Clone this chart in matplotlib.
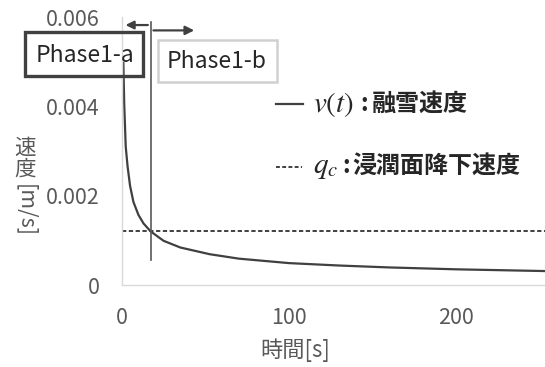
import numpy as np
import matplotlib.pyplot as plt
from matplotlib.patches import Rectangle
from matplotlib.lines import Line2D

plt.rcParams['font.family'] = ['Noto Sans CJK JP', 'DejaVu Sans']
plt.rcParams['mathtext.fontset'] = 'stix'

# melt rate v(t)
t = [1, 1.5, 2.4, 3.5, 5, 7, 10, 13, 17.3, 25, 35, 52.5, 70, 100, 130, 160, 200, 253]
v = [0.00497, 0.00406, 0.0031, 0.00266, 0.00222, 0.00186, 0.00157, 0.00138, 0.0012,
     0.00099, 0.00084, 0.00069, 0.00059, 0.00049, 0.000436, 0.000393, 0.000351, 0.000312]
qc = 0.0012          # wetting front descent rate
t_cross = 17.3       # phase boundary
xticks = [0, 100, 200]
yticks = [0, 0.002, 0.004, 0.006]
ytick_labels = ['0', '0.002', '0.004', '0.006']

W, H = 545, 367
fig = plt.figure(figsize=(W / 100, H / 100), dpi=100)
ax = fig.add_axes([121.7 / W, 82 / H, 1 - 121.7 / W, (285 - 17) / H])

dark = '#404040'
grey = '#595959'
ink = '#262626'

ax.plot(t, v, color=dark, lw=1.6, clip_on=False)
ax.axhline(qc, color=dark, lw=1.4, dashes=(2.2, 1.3))
ax.plot([t_cross, t_cross], [0.00056, 0.00589], color=grey, lw=1.2, clip_on=False)

# phase arrows
ax.annotate('', xy=(0.6, 0.00582), xytext=(t_cross, 0.00582),
            arrowprops=dict(arrowstyle='-|>', color=dark, lw=1.6, mutation_scale=12),
            annotation_clip=False)
ax.annotate('', xy=(45, 0.0057), xytext=(t_cross, 0.0057),
            arrowprops=dict(arrowstyle='-|>', color=dark, lw=1.6, mutation_scale=13),
            annotation_clip=False)

ax.set_xlim(0, 253)
ax.set_ylim(0, 0.006)
ax.set_xticks(xticks)
ax.set_yticks(yticks)
ax.set_yticklabels(ytick_labels)
for s in ['top', 'right']:
    ax.spines[s].set_visible(False)
for s in ['left', 'bottom']:
    ax.spines[s].set_color('#d9d9d9')
    ax.spines[s].set_linewidth(1.0)
ax.tick_params(length=0, labelsize=15.5, colors=grey)
ax.tick_params(axis='y', pad=16)
ax.tick_params(axis='x', pad=16)

# axis titles
fig.text(295 / W, 1 - 350 / H, '時間[s]', fontsize=16, color=grey, ha='center', va='center')
fig.text(25 / W, 1 - 159 / H, '速\n度', fontsize=15.5, color=grey, ha='center', va='center',
         linespacing=1.0)
fig.text(25 / W, 1 - 210 / H, '[m/s]', fontsize=15.5, color=grey, ha='center', va='center',
         rotation=-90)

# phase boxes
fig.patches.append(Rectangle((25 / W, 1 - 76 / H), 118 / W, 44 / H, transform=fig.transFigure,
                             fill=False, ec=dark, lw=2.4))
fig.text(84.5 / W, 1 - 55 / H, 'Phase1-a', fontsize=16.5, color=ink, ha='center', va='center')
fig.patches.append(Rectangle((158 / W, 1 - 82 / H), 119 / W, 42 / H, transform=fig.transFigure,
                             fill=False, ec='#d0d0d0', lw=1.8))
fig.text(216.5 / W, 1 - 61 / H, 'Phase1-b', fontsize=16.5, color=ink, ha='center', va='center')

# legend
fig.lines.append(Line2D([276 / W, 303 / W], [1 - 104 / H] * 2, transform=fig.transFigure,
                        color=dark, lw=1.6))
fig.text(313 / W, 1 - 104 / H, '$v(t)$', fontsize=21, color=ink, ha='left', va='center')
fig.text(364 / W, 1 - 104 / H, ':', fontsize=17, fontweight='bold', color=ink,
         ha='center', va='center')
fig.text(372 / W, 1 - 104 / H, '融雪速度', fontsize=17.3, fontweight='bold', color=ink,
         ha='left', va='center')
fig.lines.append(Line2D([276 / W, 302 / W], [1 - 167 / H] * 2, transform=fig.transFigure,
                        color=dark, lw=1.4, dashes=(2, 1.2)))
fig.text(313 / W, 1 - 166 / H, '$q_c$', fontsize=21, color=ink, ha='left', va='center')
fig.text(346 / W, 1 - 166 / H, ':', fontsize=17, fontweight='bold', color=ink,
         ha='center', va='center')
fig.text(352 / W, 1 - 166 / H, '浸潤面降下速度', fontsize=17.3, fontweight='bold', color=ink,
         ha='left', va='center')

fig.savefig('out.png', dpi=100)
